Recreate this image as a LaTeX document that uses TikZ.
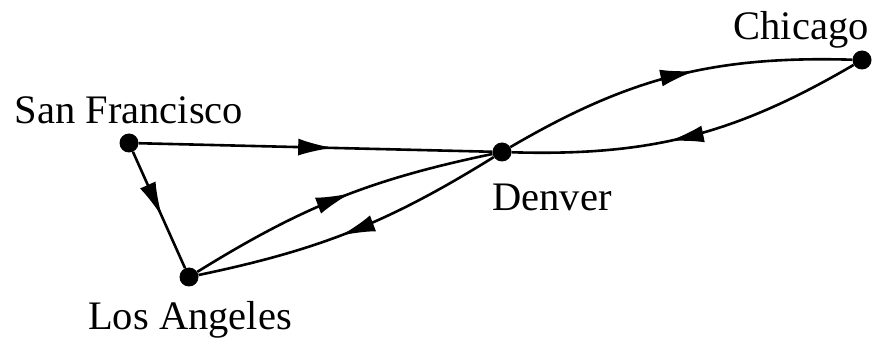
\documentclass[tikz,border=0pt]{standalone}
\usepackage{fontspec}
\setmainfont{Liberation Serif}
\usetikzlibrary{arrows.meta,decorations.markings}
\begin{document}
\begin{tikzpicture}[x=1pt,y=-1pt,
  city/.style={circle,fill=black,inner sep=0pt,minimum size=19pt},
  lbl/.style={anchor=base,font=\fontsize{40.5}{46}\selectfont,inner sep=0pt},
  edge/.style={line width=2.6pt,postaction={decorate},
    decoration={markings,mark=at position #1 with {\arrow{Latex[length=35pt,width=17pt]}}}},
  edge/.default=0.54]
\useasboundingbox (0,0) rectangle (884,339);
\node[city] (sf) at (129,143) {};
\node[city] (la) at (189,277) {};
\node[city] (den) at (502,152) {};
\node[city] (chi) at (862,60) {};
\node[lbl] (sfl) at (129,124) {San Francisco};
\node[lbl] (lal) at (190,330) {Los Angeles};
\node[lbl] (denl) at (552,211) {Denver};
\node[lbl] (chil) at (801,40) {Chicago};
\draw[edge=0.55] (sf) -- (den);
\draw[edge=0.56] (sf) -- (la);
\draw[edge] (la) to[bend left=10] (den);
\draw[edge] (den) to[bend left=10] (la);
\draw[edge=0.56] (den) to[bend left=16] (chi);
\draw[edge=0.56] (chi) to[bend left=16] (den);
\end{tikzpicture}
\end{document}
